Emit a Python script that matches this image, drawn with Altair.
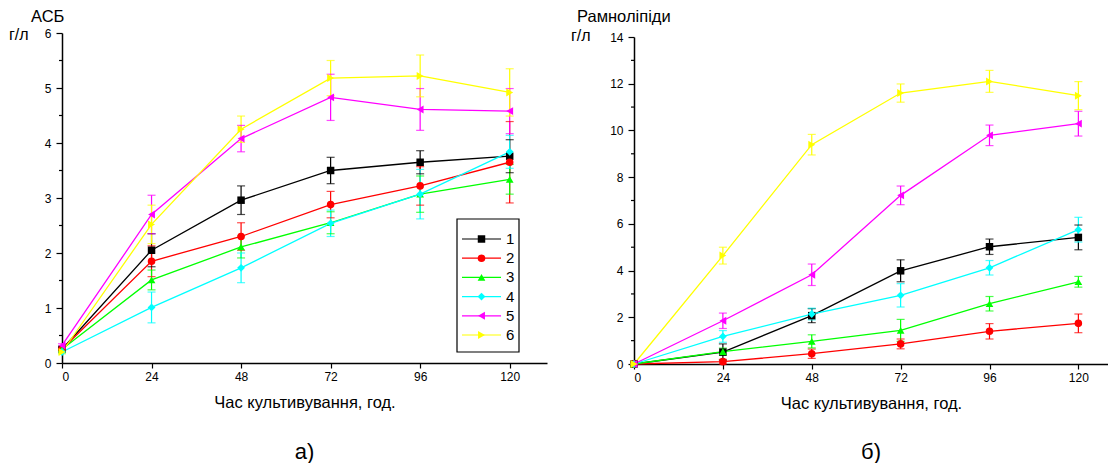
import altair as alt
import pandas as pd

# cultivation time, hours
hours = [0, 24, 48, 72, 96, 120]

series = ["1", "2", "3", "4", "5", "6"]
colors = ["#000000", "#ff0000", "#00ff00", "#00ffff", "#ff00ff", "#ffff00"]
shapes = ["square", "circle", "triangle-up", "diamond", "triangle-left", "triangle-right"]
sizes = [56, 64, 125, 105, 125, 125]

# ASB, g/l (mean and standard deviation per series)
asb_1 = [0.25, 2.05, 2.96, 3.50, 3.65, 3.76]
asb_2 = [0.25, 1.85, 2.30, 2.88, 3.22, 3.65]
asb_3 = [0.25, 1.51, 2.11, 2.55, 3.07, 3.34]
asb_4 = [0.20, 1.01, 1.73, 2.54, 3.07, 3.84]
asb_5 = [0.32, 2.70, 4.08, 4.83, 4.61, 4.58]
asb_6 = [0.20, 2.52, 4.25, 5.18, 5.22, 4.92]

asb_err_1 = [0.03, 0.30, 0.26, 0.24, 0.21, 0.30]
asb_err_2 = [0.03, 0.28, 0.25, 0.24, 0.35, 0.74]
asb_err_3 = [0.03, 0.18, 0.20, 0.20, 0.33, 0.27]
asb_err_4 = [0.03, 0.28, 0.27, 0.24, 0.45, 0.30]
asb_err_5 = [0.03, 0.35, 0.24, 0.42, 0.38, 0.41]
asb_err_6 = [0.03, 0.35, 0.24, 0.32, 0.38, 0.43]

# rhamnolipids, g/l
rl_1 = [0.0, 0.51, 2.07, 3.99, 5.02, 5.42]
rl_2 = [0.0, 0.10, 0.44, 0.86, 1.40, 1.74]
rl_3 = [0.0, 0.53, 0.97, 1.44, 2.58, 3.52]
rl_4 = [0.0, 1.18, 2.14, 2.94, 4.12, 5.75]
rl_5 = [0.0, 1.85, 3.82, 7.22, 9.79, 10.29]
rl_6 = [0.0, 4.64, 9.39, 11.60, 12.10, 11.49]

rl_err_1 = [0.02, 0.35, 0.30, 0.47, 0.33, 0.53]
rl_err_2 = [0.02, 0.10, 0.20, 0.21, 0.33, 0.40]
rl_err_3 = [0.02, 0.15, 0.28, 0.47, 0.31, 0.23]
rl_err_4 = [0.02, 0.25, 0.25, 0.50, 0.31, 0.53]
rl_err_5 = [0.02, 0.33, 0.46, 0.40, 0.44, 0.53]
rl_err_6 = [0.02, 0.36, 0.44, 0.39, 0.47, 0.60]

asb_major = [0, 1, 2, 3, 4, 5, 6]
asb_minor = [0.5, 1.5, 2.5, 3.5, 4.5, 5.5]
rl_major = [0, 2, 4, 6, 8, 10, 12, 14]
rl_minor = [1, 3, 5, 7, 9, 11, 13]

X_TITLE = "Час культивування, год."
FONT = "Liberation Sans"


def frame(means, errs):
    rows = []
    for s, m, e in zip(series, means, errs):
        for h, v, d in zip(hours, m, e):
            rows.append({"series": s, "hour": h, "value": v, "lo": v - d, "hi": v + d})
    return pd.DataFrame(rows)


def one(text):
    return pd.DataFrame({"t": [text]})


def panel(df, ymax, major, minor, y_range, width, height, x_max,
          name, name_x, unit_x, unit_y, letter, with_legend):
    xs = alt.Scale(domain=[0, x_max], nice=False, zero=False)
    ys = alt.Scale(domain=[0, ymax], nice=False, range=y_range)
    x_axis = alt.Axis(values=hours, title=X_TITLE, grid=False, tickSize=5,
                      tickWidth=1.2, tickColor="black", domainColor="black",
                      domainWidth=1.5, labelFont=FONT, labelFontSize=12,
                      labelColor="black", labelPadding=3, titleFont=FONT,
                      titleFontSize=16.5, titleFontWeight="normal",
                      titleColor="black", titlePadding=12)
    y_axis = alt.Axis(values=major, title=None, grid=False, tickSize=6,
                      tickWidth=1.2, tickColor="black", domainColor="black",
                      domainWidth=1.5, labelFont=FONT, labelFontSize=12,
                      labelColor="black", labelPadding=5)
    X = lambda f: alt.X(f, scale=xs, axis=x_axis)
    Y = lambda f: alt.Y(f, scale=ys, axis=y_axis)
    color = alt.Color("series:N", scale=alt.Scale(domain=series, range=colors), legend=None)
    shape = alt.Shape("series:N", scale=alt.Scale(domain=series, range=shapes), legend=None)
    size = alt.Size("series:N", scale=alt.Scale(domain=series, range=sizes), legend=None)

    base = alt.Chart(df)
    bars = base.mark_rule(strokeWidth=1.2).encode(X("hour:Q"), Y("lo:Q"), y2="hi:Q", color=color)
    cap_hi = base.mark_tick(orient="horizontal", size=8, thickness=1.2).encode(X("hour:Q"), Y("hi:Q"), color=color)
    cap_lo = base.mark_tick(orient="horizontal", size=8, thickness=1.2).encode(X("hour:Q"), Y("lo:Q"), color=color)
    lines = base.mark_line(strokeWidth=1.3).encode(X("hour:Q"), Y("value:Q"), color=color)
    points = base.mark_point(filled=True, opacity=1).encode(
        X("hour:Q"), Y("value:Q"), color=color, shape=shape, size=size)
    minor_ticks = alt.Chart(pd.DataFrame({"v": minor})).mark_rule(
        color="black", strokeWidth=1.2).encode(
        x=alt.value(-3), x2=alt.value(0), y=Y("v:Q"))

    data_layer = alt.layer(minor_ticks, bars, cap_hi, cap_lo, lines, points)

    label = dict(font=FONT, color="black")
    texts = [
        alt.Chart(one(name)).mark_text(align="left", baseline="top", fontSize=16.5, **label)
        .encode(text="t:N", x=alt.value(name_x), y=alt.value(-24)),
        alt.Chart(one("г/л")).mark_text(align="left", baseline="middle", fontSize=16, **label)
        .encode(text="t:N", x=alt.value(unit_x), y=alt.value(unit_y)),
        alt.Chart(one(letter)).mark_text(align="center", baseline="middle", fontSize=22, **label)
        .encode(text="t:N", x=alt.value(width / 2), y=alt.value(419)),
    ]

    extra = list(texts)
    if with_legend:
        leg = pd.DataFrame({"series": series, "idx": list(range(1, 7))})
        ly = alt.Y("idx:Q", scale=alt.Scale(domain=[1, 6], range=[206, 302]), axis=None)
        box = alt.Chart(one("")).mark_rect(fill="white", stroke="black", strokeWidth=1.2).encode(
            x=alt.value(395), x2=alt.value(457), y=alt.value(186), y2=alt.value(319))
        lb = alt.Chart(leg)
        leg_lines = lb.mark_rule(strokeWidth=1.2).encode(
            x=alt.value(400), x2=alt.value(439), y=ly, color=color)
        leg_pts = lb.mark_point(filled=True, opacity=1).encode(
            x=alt.value(419.5), y=ly, color=color, shape=shape, size=size)
        leg_txt = lb.mark_text(align="left", baseline="middle", fontSize=15, **label).encode(
            x=alt.value(444), y=ly, text="series:N")
        extra = [box, alt.layer(leg_lines, leg_pts, leg_txt)] + extra

    return alt.layer(data_layer, *extra).resolve_scale(y="independent").properties(
        width=width, height=height)


left = panel(
    frame([asb_1, asb_2, asb_3, asb_4, asb_5, asb_6],
          [asb_err_1, asb_err_2, asb_err_3, asb_err_4, asb_err_5, asb_err_6]),
    6, asb_major, asb_minor, [330, 0], 485, 330, 130,
    "АСБ", -31, -53, 2, "а)", True)

right = panel(
    frame([rl_1, rl_2, rl_3, rl_4, rl_5, rl_6],
          [rl_err_1, rl_err_2, rl_err_3, rl_err_4, rl_err_5, rl_err_6]),
    14, rl_major, rl_minor, [331, 4], 474, 331, 128,
    "Рамноліпіди", -57, -63, 3, "б)", False)

chart = alt.hconcat(left, right, spacing=24).properties(
    padding={"left": 9, "top": 9, "right": 0, "bottom": 0},
    background="white",
).configure_view(stroke=None)

chart.save("out.html", embed_options={"renderer": "svg", "actions": False})
